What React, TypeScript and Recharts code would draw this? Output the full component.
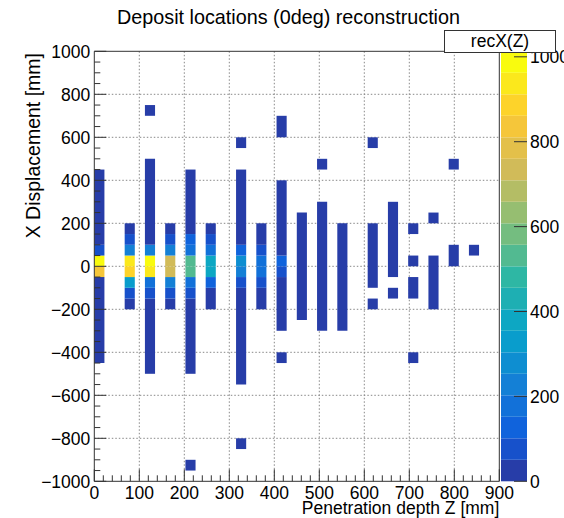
import React from 'react';
import { ScatterChart, XAxis, YAxis, CartesianGrid, ReferenceArea } from 'recharts';

const FONT = '"Liberation Sans", Arial, Helvetica, sans-serif';

// ---- Histogram binning / data ----
const Z_BIN_WIDTH = 22.5; // mm, bins along penetration depth
const Z_MAX = 1013; // maximum bin content (top of colour scale)
const N_BANDS = 20;

// lower Z edge of every filled column
const columnZ = [0, 67.5, 112.5, 157.5, 202.5, 247.5, 315, 360, 405, 450, 495, 540, 607.5, 652.5, 697.5, 742.5, 787.5, 832.5];

// runs of cells in each column: [xLow, xHigh, count]
const columnRuns: number[][][] = [
  [[-450, -50, 12], [-50, 0, 830], [0, 50, 1013], [50, 100, 90], [100, 450, 12]],
  [[-200, -150, 20], [-150, -100, 100], [-100, -50, 330], [-50, 0, 880], [0, 50, 930], [50, 100, 250], [100, 150, 76], [150, 200, 20]],
  [[-500, -150, 10], [-150, -100, 100], [-100, -50, 180], [-50, 0, 940], [0, 50, 990], [50, 100, 230], [100, 500, 10], [700, 750, 3]],
  [[-200, -150, 20], [-150, -100, 80], [-100, -50, 250], [-50, 0, 730], [0, 50, 740], [50, 100, 250], [100, 150, 76], [150, 200, 20]],
  [[-950, -900, 2], [-500, -150, 10], [-150, -100, 80], [-100, -50, 190], [-50, 0, 525], [0, 50, 540], [50, 100, 180], [100, 150, 130], [150, 450, 10]],
  [[-200, -100, 30], [-100, -50, 140], [-50, 0, 380], [0, 50, 390], [50, 100, 175], [100, 150, 100], [150, 200, 30]],
  [[-850, -800, 2], [-550, -100, 10], [-100, -50, 100], [-50, 0, 250], [0, 50, 270], [50, 100, 150], [100, 450, 10], [550, 600, 2]],
  [[-200, -100, 25], [-100, -50, 100], [-50, 0, 170], [0, 50, 170], [50, 100, 100], [100, 200, 25]],
  [[-450, -400, 2], [-300, -50, 10], [-50, 0, 85], [0, 50, 120], [50, 400, 10], [600, 700, 2]],
  [[-250, 250, 8]],
  [[-300, 300, 6], [450, 500, 2]],
  [[-300, 200, 6]],
  [[-200, -150, 2], [-100, 200, 5], [550, 600, 1]],
  [[-150, -100, 2], [-50, 300, 5]],
  [[-450, -400, 1], [-150, -50, 2], [0, 50, 3], [150, 200, 1]],
  [[-200, 50, 4], [200, 250, 1]],
  [[0, 100, 3], [450, 500, 1]],
  [[50, 100, 2]],
];

// ---- axes ----
const X_MAJOR = [0, 100, 200, 300, 400, 500, 600, 700, 800, 900];
const Y_MAJOR = [-1000, -800, -600, -400, -200, 0, 200, 400, 600, 800, 1000];
const Z_TICKS = [0, 200, 400, 600, 800, 1000];
const X_GRID = [100, 200, 300, 400, 500, 600, 700, 800];
const Y_GRID = [-800, -600, -400, -200, 0, 200, 400, 600, 800];

const xTicksAll: number[] = [];
for (let v = 0; v <= 900; v += 20) xTicksAll.push(v);
const yTicksAll: number[] = [];
for (let v = -1000; v <= 1000; v += 50) yTicksAll.push(v);

// ---- kBird palette ----
const BIRD_STOPS = [0, 0.125, 0.25, 0.375, 0.5, 0.625, 0.75, 0.875, 1];
const BIRD_R = [0.2082, 0.0592, 0.0780, 0.0232, 0.1802, 0.5301, 0.8186, 0.9956, 0.9764];
const BIRD_G = [0.1664, 0.3599, 0.5041, 0.6419, 0.7178, 0.7492, 0.7328, 0.7862, 0.9832];
const BIRD_B = [0.5293, 0.8684, 0.8385, 0.7914, 0.6425, 0.4662, 0.3499, 0.1968, 0.0539];

function birdColor(f: number): string {
  let i = 0;
  while (i < BIRD_STOPS.length - 2 && f > BIRD_STOPS[i + 1]) i++;
  const t = (f - BIRD_STOPS[i]) / (BIRD_STOPS[i + 1] - BIRD_STOPS[i]);
  const c = (a: number[]) => Math.round(255 * (a[i] + (a[i + 1] - a[i]) * t));
  return `rgb(${c(BIRD_R)},${c(BIRD_G)},${c(BIRD_B)})`;
}
function bandColor(b: number): string {
  const idx = Math.floor(((b + 0.99) * 255) / N_BANDS);
  return birdColor(Math.min(idx, 254) / 254);
}
function valueColor(v: number): string {
  const b = Math.min(N_BANDS - 1, Math.floor(0.01 + (v * N_BANDS) / Z_MAX));
  return bandColor(b);
}
const fmt = (v: number) => (v < 0 ? `\u2212${Math.abs(v)}` : `${v}`);

const AX = '#333';

function XTick(props: any) {
  const { x, y, payload } = props;
  const major = X_MAJOR.includes(payload.value);
  return (
    <g>
      <line x1={x} x2={x} y1={y} y2={y - (major ? 12 : 6)} stroke={AX} strokeWidth={1} />
      {major && (
        <text x={x} y={y + 17.5} textAnchor="middle" fontSize={17.5} fontFamily={FONT} fill="#000">
          {fmt(payload.value)}
        </text>
      )}
    </g>
  );
}

function YTick(props: any) {
  const { x, y, payload } = props;
  const major = Y_MAJOR.includes(payload.value);
  return (
    <g>
      <line x1={x} x2={x + (major ? 12 : 6)} y1={y} y2={y} stroke={AX} strokeWidth={1} />
      {major && (
        <text x={x - 4} y={y} dy="0.36em" textAnchor="end" fontSize={17.5} fontFamily={FONT} fill="#000">
          {fmt(payload.value)}
        </text>
      )}
    </g>
  );
}

function ZTick(props: any) {
  const { x, y, payload } = props;
  return (
    <g>
      <line x1={x - 13} x2={x} y1={y} y2={y} stroke={AX} strokeWidth={1} />
      <text x={x + 3} y={y} dy="0.36em" textAnchor="start" fontSize={17.5} fontFamily={FONT} fill="#000">
        {fmt(payload.value)}
      </text>
    </g>
  );
}

const cells: { z1: number; z2: number; x1: number; x2: number; n: number }[] = [];
columnZ.forEach((z, i) => {
  columnRuns[i].forEach(([lo, hi, n]) => {
    cells.push({ z1: z, z2: z + Z_BIN_WIDTH, x1: lo, x2: hi, n });
  });
});

const bands: number[] = [];
for (let b = 0; b < N_BANDS; b++) bands.push(b);
const bandStep = Z_MAX / N_BANDS;

export default function App() {
  return (
    <div style={{ position: 'absolute', left: 0, top: 0, width: 564, height: 518, background: '#fff', overflow: 'hidden' }}>
      <div style={{ position: 'absolute', left: 0, top: 0 }}>
        <ScatterChart width={564} height={518} margin={{ top: 51.3, right: 64.7, bottom: 0.7, left: 34.3 }}>
          <CartesianGrid stroke="#888" strokeDasharray="1.5 2" horizontalValues={Y_GRID} verticalValues={X_GRID} />
          <XAxis
            type="number"
            dataKey="z"
            domain={[0, 900]}
            ticks={xTicksAll}
            interval={0}
            height={36}
            tickSize={0}
            tickMargin={0}
            axisLine={false}
            tickLine={false}
            tick={<XTick />}
            allowDataOverflow
          />
          <YAxis
            type="number"
            dataKey="x"
            domain={[-1000, 1000]}
            ticks={yTicksAll}
            interval={0}
            width={60}
            tickSize={0}
            tickMargin={0}
            axisLine={false}
            tickLine={false}
            tick={<YTick />}
            allowDataOverflow
          />
          {cells.map((c, i) => (
            <ReferenceArea
              key={i}
              x1={c.z1}
              x2={c.z2}
              y1={c.x1}
              y2={c.x2}
              fill={valueColor(c.n)}
              fillOpacity={1}
              stroke="none"
            />
          ))}
          <ReferenceArea x1={0} x2={900} y1={-1000} y2={1000} fill="none" fillOpacity={0} stroke="#333" strokeWidth={1} />
        </ScatterChart>
      </div>
      <div style={{ position: 'absolute', left: 0, top: 0 }}>
        <ScatterChart width={564} height={518} margin={{ top: 51.3, right: 7, bottom: 36.7, left: 501 }}>
          <XAxis type="number" dataKey="a" domain={[0, 1]} hide allowDataOverflow />
          <YAxis
            type="number"
            dataKey="v"
            domain={[0, Z_MAX]}
            ticks={Z_TICKS}
            orientation="right"
            interval={0}
            width={30}
            tickSize={0}
            tickMargin={0}
            axisLine={false}
            tickLine={false}
            tick={<ZTick />}
            allowDataOverflow
          />
          {bands.map((b) => (
            <ReferenceArea
              key={b}
              x1={0}
              x2={1}
              y1={b * bandStep}
              y2={Math.min(Z_MAX, (b + 1) * bandStep)}
              fill={bandColor(b)}
              fillOpacity={1}
              stroke="none"
              ifOverflow="visible"
            />
          ))}
        </ScatterChart>
      </div>
      <svg width={564} height={518} style={{ position: 'absolute', left: 0, top: 0 }}>
        <text x={288.5} y={24} textAnchor="middle" fontSize={19.8} fontFamily={FONT} fill="#000">
          Deposit locations (0deg) reconstruction
        </text>
        <rect x={444.5} y={30.5} width={111} height={22} fill="#fff" stroke="#333" strokeWidth={1} />
        <text x={500} y={47} textAnchor="middle" fontSize={17.5} fontFamily={FONT} fill="#000">
          recX(Z)
        </text>
        <text x={499.3} y={514} textAnchor="end" fontSize={17.5} fontFamily={FONT} fill="#000">
          Penetration depth Z [mm]
        </text>
        <text x={40} y={53} transform="rotate(-90 40 53)" textAnchor="end" fontSize={19.5} fontFamily={FONT} fill="#000">
          X Displacement [mm]
        </text>
      </svg>
    </div>
  );
}
